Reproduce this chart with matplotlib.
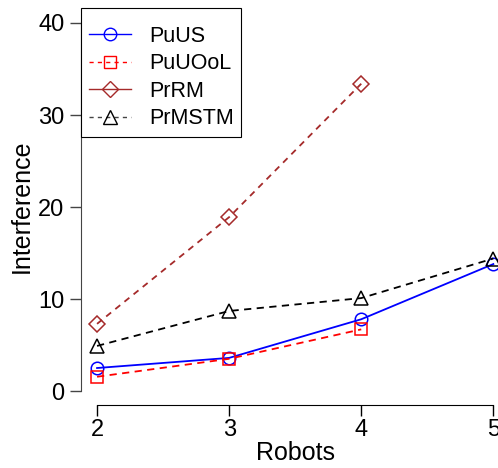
import matplotlib.pyplot as plt
from matplotlib.lines import Line2D

plt.rcParams['font.family'] = ['Liberation Sans', 'DejaVu Sans']

# Data
robots = [2, 3, 4, 5]
puus = [2.5, 3.6, 7.8, 13.8]
puuool = [1.55, 3.5, 6.7]
prrm = [7.3, 18.9, 33.4]
prmstm = [4.9, 8.7, 10.1, 14.4]

series_names = ['PuUS', 'PuUOoL', 'PrRM', 'PrMSTM']
xticks = [2, 3, 4, 5]
yticks = [0, 10, 20, 30, 40]


def main():
    fig = plt.figure(figsize=(4.98, 4.68), dpi=100)
    ax = fig.add_axes([81.2 / 498, 63 / 468, 428 / 498, 397 / 468])

    ms = 9
    ax.plot(robots, puus, color='#0000FF', lw=1.3, marker='o', ms=ms,
            mfc='none', mew=1.1, clip_on=False)
    ax.plot(robots[:3], puuool, color='#FF0000', lw=1.3, ls=(0, (4, 3)),
            marker='s', ms=ms, mfc='none', mew=1.1, clip_on=False)
    ax.plot(robots[:3], prrm, color='#A52A2A', lw=1.3, ls=(0, (3.5, 3)),
            marker='D', ms=ms * 0.85, mfc='none', mew=1.1, clip_on=False)
    ax.plot(robots, prmstm, color='black', lw=1.3, ls=(0, (4, 3)),
            marker='^', ms=ms * 1.05, mfc='none', mew=1.1, clip_on=False)

    ax.set_xlim(1.88, 5.12)
    ax.set_ylim(-1.52, 41.63)

    for s in ['top', 'right']:
        ax.spines[s].set_visible(False)
    ax.spines['left'].set_bounds(0, 40)
    ax.spines['bottom'].set_bounds(2, 5)
    ax.spines['left'].set_color('#444444')

    ax.set_xticks(xticks)
    ax.set_yticks(yticks)
    ax.tick_params(labelsize=17, length=8, width=1)
    ax.tick_params(axis='y', pad=4, colors='#444444', labelcolor='black')
    ax.tick_params(axis='x', pad=2)
    ax.set_xlabel('Robots', fontsize=18, labelpad=0)
    ax.set_ylabel('Interference', fontsize=18, labelpad=3)

    handles = [
        Line2D([], [], color='#0000FF', lw=1, marker='o', ms=ms, mfc='none'),
        Line2D([], [], color='#FF0000', lw=1, ls=(0, (3, 3)), marker='s',
               ms=ms * 0.9, mfc='none'),
        Line2D([], [], color='#A52A2A', lw=1, marker='D', ms=ms * 0.85,
               mfc='none'),
        Line2D([], [], color='#444444', lw=1, ls=(0, (3, 3)), marker='^',
               ms=ms * 1.1, mfc='none', mec='black'),
    ]
    leg = ax.legend(handles, series_names, loc='upper left',
                    bbox_to_anchor=(0, 1), borderaxespad=0, fontsize=15.5,
                    fancybox=False, framealpha=1, edgecolor='black',
                    handlelength=1.95, handletextpad=0.85, borderpad=0.35,
                    labelspacing=0.3, title=' ', title_fontsize=3)
    leg.get_frame().set_linewidth(0.8)

    fig.savefig('out.png', dpi=100)


if __name__ == '__main__':
    main()
